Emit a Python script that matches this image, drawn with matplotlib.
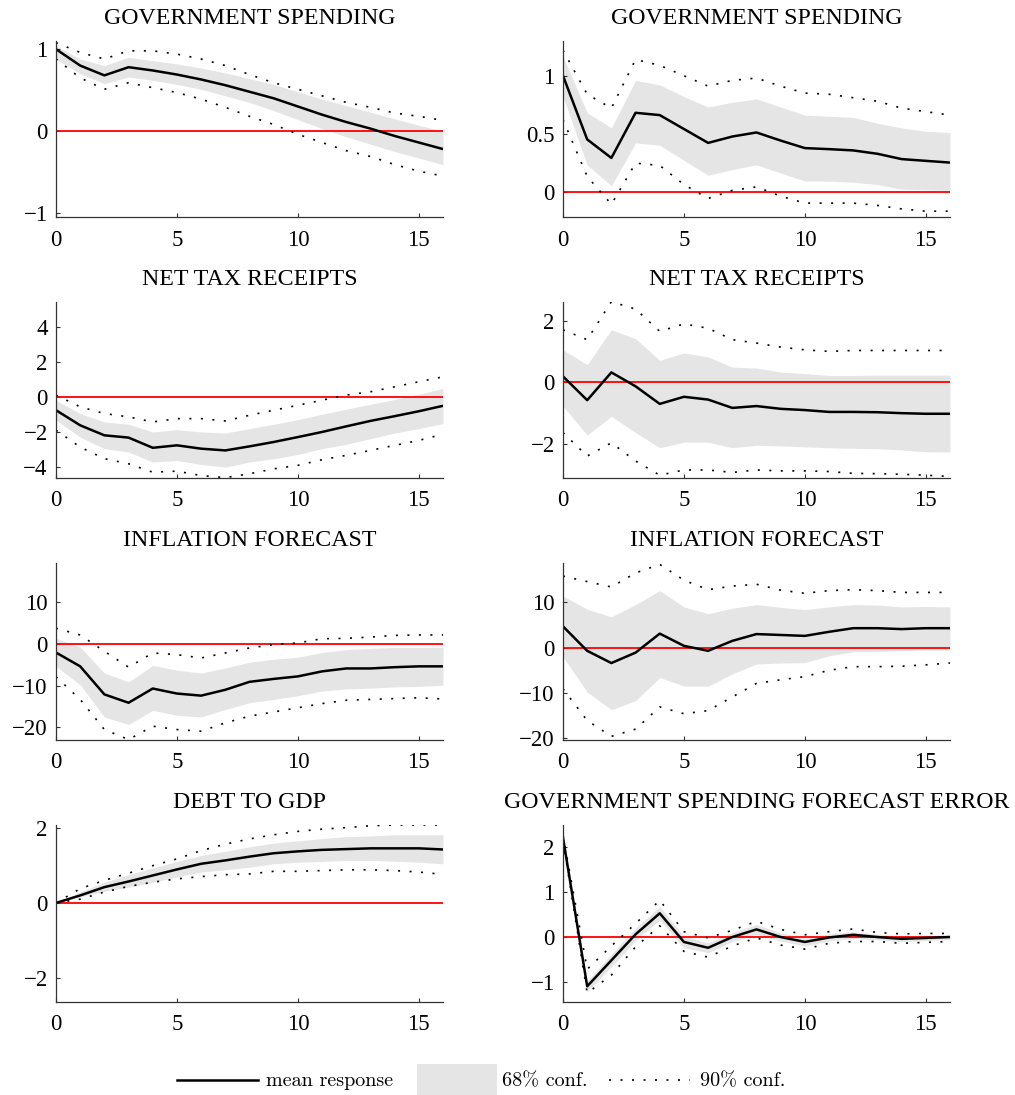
"""
Impulse responses to a government spending shock: mean response with 68% and
90% bands, two model variants side by side (left / right column).
"""
import matplotlib

matplotlib.use("Agg")
import matplotlib.pyplot as plt  # noqa: E402
import numpy as np  # noqa: E402
from matplotlib.patches import Rectangle  # noqa: E402
from matplotlib.ticker import FuncFormatter  # noqa: E402

plt.rcParams["font.family"] = ["Liberation Serif", "DejaVu Serif"]

horizon = np.arange(17)
xticks = [0, 5, 10, 15]

titles = ["GOVERNMENT SPENDING", "GOVERNMENT SPENDING",
          "NET TAX RECEIPTS", "NET TAX RECEIPTS",
          "INFLATION FORECAST", "INFLATION FORECAST",
          "DEBT TO GDP", "GOVERNMENT SPENDING FORECAST ERROR"]

ylims = [(-1.05, 1.1), (-0.22, 1.3),
         (-4.62, 5.4), (-3.1, 2.6),
         (-23.0, 19.3), (-20.4, 18.7),
         (-2.63, 2.07), (-1.45, 2.5)]

yticks = [[-1, 0, 1], [0, 0.5, 1],
          [-4, -2, 0, 2, 4], [-2, 0, 2],
          [-20, -10, 0, 10], [-20, -10, 0, 10],
          [-2, 0, 2], [-1, 0, 1, 2]]

# panel 1: government spending (left)
g1_mean = [1.0, 0.80, 0.68, 0.78, 0.74, 0.69, 0.63, 0.56, 0.48, 0.40, 0.30, 0.20, 0.11, 0.03, -0.06, -0.14, -0.22]
g1_lo68 = [0.88, 0.70, 0.58, 0.66, 0.62, 0.57, 0.51, 0.43, 0.35, 0.25, 0.14, 0.03, -0.07, -0.16, -0.25, -0.33, -0.41]
g1_hi68 = [1.04, 0.88, 0.80, 0.90, 0.86, 0.82, 0.77, 0.71, 0.64, 0.57, 0.48, 0.39, 0.31, 0.23, 0.15, 0.07, 0.00]
g1_lo90 = [0.88, 0.65, 0.51, 0.59, 0.53, 0.47, 0.39, 0.29, 0.18, 0.08, -0.04, -0.14, -0.24, -0.31, -0.41, -0.49, -0.55]
g1_hi90 = [1.08, 0.96, 0.88, 0.98, 0.98, 0.94, 0.88, 0.80, 0.69, 0.59, 0.51, 0.43, 0.35, 0.29, 0.22, 0.18, 0.13]

# panel 2: government spending (right)
g2_mean = [1.0, 0.45, 0.29, 0.68, 0.66, 0.54, 0.42, 0.475, 0.51, 0.44, 0.375, 0.366, 0.355, 0.326, 0.28, 0.265, 0.25]
g2_lo68 = [0.82, 0.23, 0.05, 0.42, 0.40, 0.27, 0.14, 0.19, 0.23, 0.16, 0.09, 0.09, 0.08, 0.06, 0.02, 0.015, 0.01]
g2_hi68 = [1.17, 0.68, 0.55, 0.96, 0.92, 0.82, 0.73, 0.77, 0.80, 0.73, 0.66, 0.65, 0.64, 0.59, 0.55, 0.52, 0.51]
g2_lo90 = [0.62, 0.13, -0.11, 0.245, 0.225, 0.06, -0.06, 0.01, 0.04, -0.04, -0.10, -0.10, -0.10, -0.12, -0.15, -0.17, -0.17]
g2_hi90 = [1.22, 0.84, 0.72, 1.14, 1.09, 1.0, 0.91, 0.96, 0.98, 0.91, 0.85, 0.84, 0.81, 0.78, 0.72, 0.69, 0.66]

# panel 3: net tax receipts (left)
t1_mean = [-0.76, -1.62, -2.19, -2.32, -2.90, -2.76, -2.95, -3.05, -2.82, -2.57, -2.29, -2.0, -1.68, -1.37, -1.10, -0.82, -0.51]
t1_lo68 = [-1.33, -2.29, -2.95, -3.14, -3.71, -3.62, -3.85, -4.0, -3.71, -3.52, -3.28, -2.95, -2.70, -2.38, -2.06, -1.81, -1.52]
t1_hi68 = [-0.2, -0.95, -1.43, -1.56, -2.0, -1.87, -2.0, -2.06, -1.81, -1.56, -1.30, -0.99, -0.70, -0.42, -0.15, 0.15, 0.48]
t1_lo90 = [-1.9, -2.86, -3.52, -3.81, -4.29, -4.23, -4.48, -4.6, -4.38, -4.10, -3.90, -3.58, -3.33, -3.05, -2.76, -2.48, -2.13]
t1_hi90 = [0.1, -0.57, -0.95, -1.14, -1.43, -1.24, -1.24, -1.37, -1.05, -0.76, -0.48, -0.19, 0.1, 0.29, 0.57, 0.86, 1.14]

# panel 4: net tax receipts (right)
t2_mean = [0.19, -0.58, 0.32, -0.13, -0.70, -0.47, -0.56, -0.83, -0.77, -0.86, -0.90, -0.96, -0.96, -0.97, -1.0, -1.02, -1.02]
t2_lo68 = [-0.77, -1.71, -1.10, -1.63, -2.12, -1.94, -1.94, -2.12, -2.04, -2.06, -2.09, -2.12, -2.14, -2.15, -2.19, -2.25, -2.26]
t2_hi68 = [1.05, 0.57, 1.70, 1.41, 0.71, 0.95, 0.82, 0.49, 0.46, 0.33, 0.28, 0.22, 0.22, 0.23, 0.23, 0.23, 0.23]
t2_lo90 = [-1.63, -2.39, -1.96, -2.55, -3.01, -2.84, -2.84, -2.92, -2.84, -2.87, -2.87, -2.89, -2.95, -2.96, -2.98, -3.01, -3.05]
t2_hi90 = [1.70, 1.38, 2.61, 2.37, 1.65, 1.89, 1.75, 1.38, 1.27, 1.14, 1.05, 1.0, 1.03, 1.03, 1.03, 1.03, 1.03]

# panel 5: inflation forecast (left)
p1_mean = [-2.1, -5.4, -12.1, -14.1, -10.7, -11.9, -12.4, -11.0, -9.1, -8.4, -7.8, -6.6, -5.9, -5.9, -5.6, -5.4, -5.4]
p1_lo68 = [-5.4, -9.8, -17.5, -19.3, -15.9, -17.1, -17.5, -15.7, -14.1, -13.3, -12.4, -11.3, -10.8, -10.6, -10.3, -10.2, -9.9]
p1_hi68 = [1.3, -0.8, -7.0, -9.1, -5.2, -6.3, -7.0, -5.8, -4.4, -3.7, -3.2, -2.1, -1.4, -1.1, -0.9, -0.9, -0.8]
p1_lo90 = [-7.9, -13.3, -20.5, -22.9, -19.7, -20.5, -20.9, -18.9, -17.3, -16.3, -15.3, -14.3, -13.5, -13.3, -13.1, -12.9, -13.2]
p1_hi90 = [3.7, 2.1, -1.8, -5.6, -2.2, -2.6, -3.4, -2.2, -1.0, -0.2, 0.2, 1.2, 1.3, 1.6, 2.0, 2.1, 2.1]

# panel 6: inflation forecast (right)
p2_mean = [4.7, -0.7, -3.4, -1.1, 3.1, 0.4, -0.7, 1.5, 3.0, 2.8, 2.6, 3.5, 4.3, 4.3, 4.1, 4.3, 4.3]
p2_lo68 = [-2.0, -9.8, -13.7, -11.7, -6.6, -8.5, -8.5, -5.8, -3.6, -3.4, -3.3, -1.8, -0.9, -0.8, -0.7, -0.5, -0.5]
p2_hi68 = [11.4, 8.5, 6.8, 9.5, 12.6, 9.0, 7.5, 8.7, 9.5, 8.9, 8.4, 9.0, 9.5, 9.4, 9.0, 9.1, 9.0]
p2_lo90 = [-9.1, -16.1, -19.6, -18.0, -13.1, -14.6, -13.9, -10.9, -7.9, -7.1, -6.4, -5.0, -4.2, -4.2, -4.1, -3.8, -3.4]
p2_hi90 = [15.8, 14.6, 13.4, 16.5, 18.4, 14.9, 12.8, 13.6, 14.0, 12.7, 12.0, 12.6, 12.8, 12.6, 12.2, 12.2, 12.2]

# panel 7: debt to GDP (left)
d1_mean = [0.0, 0.20, 0.42, 0.57, 0.73, 0.89, 1.04, 1.13, 1.23, 1.32, 1.37, 1.41, 1.43, 1.45, 1.45, 1.45, 1.42]
d1_lo68 = [0.0, 0.16, 0.31, 0.42, 0.55, 0.69, 0.82, 0.88, 0.95, 1.04, 1.08, 1.10, 1.13, 1.13, 1.11, 1.08, 1.04]
d1_hi68 = [0.0, 0.29, 0.55, 0.75, 0.93, 1.10, 1.26, 1.37, 1.49, 1.59, 1.65, 1.71, 1.76, 1.78, 1.81, 1.81, 1.81]
d1_lo90 = [0.0, 0.10, 0.29, 0.44, 0.55, 0.64, 0.70, 0.75, 0.77, 0.84, 0.84, 0.86, 0.88, 0.88, 0.86, 0.82, 0.76]
d1_hi90 = [0.0, 0.38, 0.60, 0.79, 0.99, 1.17, 1.39, 1.56, 1.70, 1.81, 1.90, 1.96, 2.0, 2.05, 2.07, 2.07, 2.07]

# panel 8: government spending forecast error (right)
e2_mean = [2.22, -1.10, -0.52, 0.06, 0.53, -0.11, -0.24, 0.0, 0.17, 0.0, -0.11, -0.01, 0.05, 0.0, -0.04, -0.02, 0.0]
e2_lo68 = [2.18, -1.22, -0.66, -0.08, 0.38, -0.24, -0.35, -0.10, 0.06, -0.09, -0.20, -0.09, -0.03, -0.06, -0.10, -0.08, -0.06]
e2_hi68 = [2.25, -0.98, -0.38, 0.20, 0.68, 0.02, -0.13, 0.10, 0.28, 0.09, -0.02, 0.07, 0.12, 0.06, 0.03, 0.04, 0.05]
e2_lo90 = [2.15, -1.25, -0.85, -0.22, 0.25, -0.32, -0.45, -0.20, -0.02, -0.18, -0.27, -0.14, -0.10, -0.10, -0.14, -0.12, -0.10]
e2_hi90 = [2.28, -0.72, -0.20, 0.30, 0.82, 0.12, -0.02, 0.15, 0.35, 0.17, 0.05, 0.12, 0.18, 0.10, 0.07, 0.08, 0.08]

panels = [
    (g1_mean, g1_lo68, g1_hi68, g1_lo90, g1_hi90),
    (g2_mean, g2_lo68, g2_hi68, g2_lo90, g2_hi90),
    (t1_mean, t1_lo68, t1_hi68, t1_lo90, t1_hi90),
    (t2_mean, t2_lo68, t2_hi68, t2_lo90, t2_hi90),
    (p1_mean, p1_lo68, p1_hi68, p1_lo90, p1_hi90),
    (p2_mean, p2_lo68, p2_hi68, p2_lo90, p2_hi90),
    (d1_mean, d1_lo68, d1_hi68, d1_lo90, d1_hi90),
    (e2_mean, e2_lo68, e2_hi68, e2_lo90, e2_hi90),
]

BAND = "#e5e5e5"
DOTS = (0, (1.2, 5.7))
W, H = 1015, 1095


def _num(v, _pos):
    # %g with a real minus sign, like the original typesetting
    return f"{v:g}".replace("-", "\u2212")


fig = plt.figure(figsize=(W / 100, H / 100), dpi=100)

# axes boxes in pixels: column left edges, row (top, bottom)
col_x = [56, 563]
ax_w = 387
rows = [(41, 217), (302, 478), (563, 740), (825, 1002)]

for i, (mean, lo68, hi68, lo90, hi90) in enumerate(panels):
    r, c = divmod(i, 2)
    top, bot = rows[r]
    ax = fig.add_axes([col_x[c] / W, 1 - bot / H, ax_w / W, (bot - top) / H])
    ax.fill_between(horizon, lo68, hi68, color=BAND, lw=0)
    ax.plot([0, 16], [0, 0], color="red", lw=1.3)
    ax.plot(horizon, lo90, color="black", lw=1.2, ls=DOTS)
    ax.plot(horizon, hi90, color="black", lw=1.2, ls=DOTS)
    ax.plot(horizon, mean, color="black", lw=1.8)
    ax.set_xlim(0, 16)
    ax.set_ylim(*ylims[i])
    ax.set_xticks(xticks)
    ax.set_yticks(yticks[i])
    ax.xaxis.set_major_formatter(FuncFormatter(_num))
    ax.yaxis.set_major_formatter(FuncFormatter(_num))
    ax.set_title(titles[i], fontsize=17.2, pad=12)
    for s in ("top", "right"):
        ax.spines[s].set_visible(False)
    for s in ("left", "bottom"):
        ax.spines[s].set_color("#333333")
        ax.spines[s].set_linewidth(0.9)
    ax.tick_params(direction="in", length=3, width=0.8, color="#333333",
                   labelsize=16.5)
    ax.tick_params(axis="x", pad=9)
    ax.tick_params(axis="y", pad=6)

# hand-built legend strip along the bottom, pixel coordinates
lg = fig.add_axes([0, 0, 1, 1], zorder=-1)
lg.set_xlim(0, W)
lg.set_ylim(H, 0)
lg.axis("off")
lg.plot([177, 258], [1080, 1080], color="black", lw=1.8)
lg.text(266, 1081, "mean response", family="cmr10", fontsize=14.5, va="center")
lg.add_patch(Rectangle((417, 1064), 80, 31, color=BAND, lw=0))
lg.text(502, 1081, "68% conf.", family="cmr10", fontsize=14.5, va="center")
lg.plot([609, 690], [1080, 1080], color="black", lw=1.2, ls=DOTS)
lg.text(700, 1081, "90% conf.", family="cmr10", fontsize=14.5, va="center")

fig.savefig("out.png", dpi=100)
